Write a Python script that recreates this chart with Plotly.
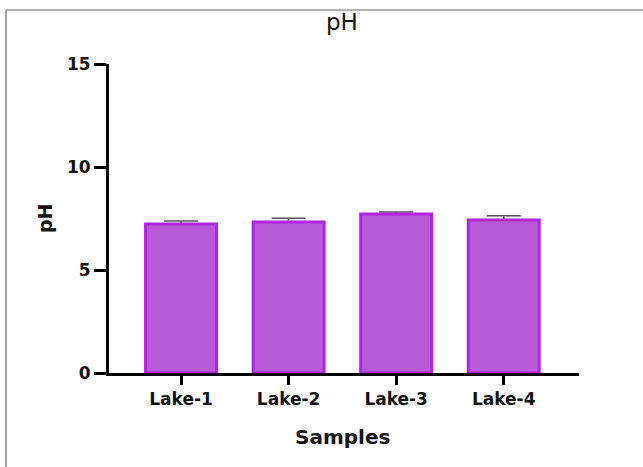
import plotly.graph_objects as go

categories = ["Lake-1", "Lake-2", "Lake-3", "Lake-4"]
ph_values = [7.23, 7.33, 7.72, 7.43]
ph_errors = [0.15, 0.18, 0.10, 0.20]
y_ticks = [0, 5, 10, 15]

W, H = 643, 467
L, R, T, B = 109, 579, 64, 373

def px(x):
    return (x - L) / (R - L)

def py(y):
    return (B - y) / (B - T)

BOLD = "DejaVu Sans"

fig = go.Figure()
# error bars drawn first (behind the bars) so only the upper half shows
fig.add_trace(go.Bar(
    x=categories, y=ph_values, width=0.66,
    marker=dict(color="rgba(0,0,0,0)", line=dict(width=0)),
    error_y=dict(type="data", array=ph_errors, visible=True,
                 color="#555555", thickness=1.5, width=17),
    hoverinfo="skip",
))
fig.add_trace(go.Bar(
    x=categories, y=ph_values, width=0.66, opacity=1,
    marker=dict(color="#B65AD5", line=dict(color="#B224E3", width=3)),
))

fig.update_layout(
    width=W, height=H,
    barmode="overlay",
    margin=dict(l=L, r=W - R, t=T, b=H - B, pad=0, autoexpand=False),
    paper_bgcolor="white", plot_bgcolor="white",
    showlegend=False,
    font=dict(family=BOLD, color="#111111"),
    xaxis=dict(
        range=[-0.67, 3.7], showline=True, linecolor="black", linewidth=3,
        ticks="outside", ticklen=9, tickwidth=3, tickcolor="black",
        tickfont=dict(size=17, family=BOLD, weight="bold", color="#111111"),
        showgrid=False, zeroline=False,
    ),
    yaxis=dict(
        range=[0, 15], tickvals=y_ticks, showline=True, linecolor="black", linewidth=3,
        ticks="outside", ticklen=12, tickwidth=3, tickcolor="black",
        tickfont=dict(size=17, family=BOLD, weight="bold", color="#111111"),
        showgrid=False, zeroline=False,
    ),
    annotations=[
        dict(text="pH", xref="paper", yref="paper", x=px(342), y=py(22),
             showarrow=False, font=dict(size=23, family=BOLD, color="#111111"),
             xanchor="center", yanchor="middle"),
        dict(text="<b>Samples</b>", xref="paper", yref="paper", x=px(342), y=py(437),
             showarrow=False, font=dict(size=20, family=BOLD, color="#111111"),
             xanchor="center", yanchor="middle"),
        dict(text="<b>pH</b>", xref="paper", yref="paper", x=px(45), y=py(218),
             showarrow=False, textangle=-90,
             font=dict(size=19, family=BOLD, color="#111111"),
             xanchor="center", yanchor="middle"),
    ],
    shapes=[
        dict(type="line", xref="paper", yref="paper",
             x0=px(6), x1=px(6), y0=py(10), y1=py(470),
             line=dict(color="#666666", width=1.2)),
        dict(type="line", xref="paper", yref="paper",
             x0=px(6), x1=px(650), y0=py(10), y1=py(10),
             line=dict(color="#666666", width=1.2)),
    ],
)

fig.write_html("out.html", config={"displayModeBar": False},
               post_script="document.body.style.margin='0';document.body.style.overflow='hidden';")
